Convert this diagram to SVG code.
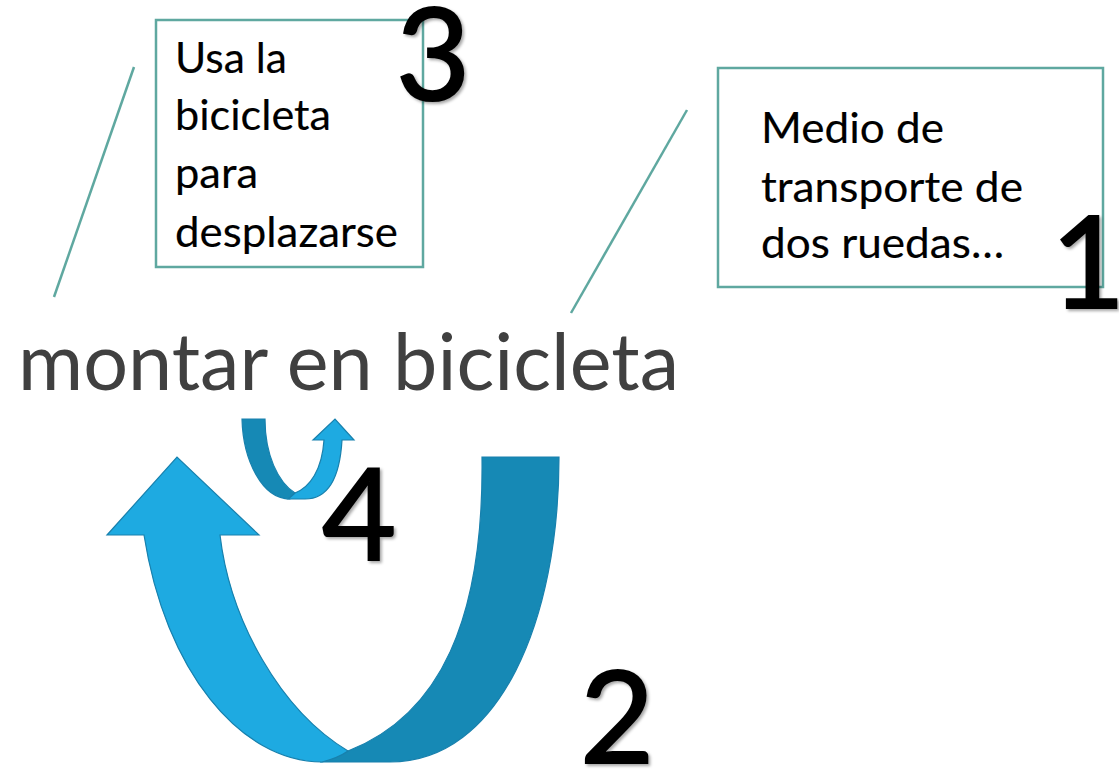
<svg xmlns="http://www.w3.org/2000/svg" width="1119" height="773" viewBox="0 0 1119 773">
  <defs>
    <filter id="shadow" x="-20%" y="-20%" width="150%" height="150%">
      <feDropShadow dx="2" dy="2" stdDeviation="1.5" flood-color="#000" flood-opacity="0.35"/>
    </filter>
  </defs>
  <style>
    .box { fill: #ffffff; stroke: #5fa8a0; stroke-width: 2.5; }
    .conn { stroke: #5fa8a0; stroke-width: 2.5; fill: none; }
    .label { font-family: Lato, "Open Sans", sans-serif; font-size: 43px; fill: #000000; stroke: #000000; stroke-width: 0.15; }
    .title { font-family: Lato, "Open Sans", sans-serif; font-size: 79px; fill: #404040; }
    .num { font-family: Lato, "Open Sans", sans-serif; font-size: 128px; fill: #000000; stroke: #000000; stroke-width: 2.2; filter: url(#shadow); }
    .light { fill: #1eaae1; stroke: #1880ad; stroke-width: 1.2; }
    .dark { fill: #1689b5; stroke: #1880ad; stroke-width: 1.2; }
  </style>
  <rect width="1119" height="773" fill="#ffffff"/>

  <g id="connectors">
    <line class="conn" x1="134" y1="67" x2="54" y2="297"/>
    <line class="conn" x1="687" y1="110" x2="571" y2="313"/>
  </g>

  <g id="node-title">
    <text class="title" x="18" y="390" textLength="661" lengthAdjust="spacingAndGlyphs">montar en bicicleta</text>
  </g>

  <g id="node-3">
    <rect class="box" x="156" y="20" width="267" height="247"/>
    <text class="label" x="175" y="73" textLength="112" lengthAdjust="spacingAndGlyphs">Usa la</text>
    <text class="label" x="175" y="130" textLength="156" lengthAdjust="spacingAndGlyphs">bicicleta</text>
    <text class="label" x="175" y="188" textLength="83" lengthAdjust="spacingAndGlyphs">para</text>
    <text class="label" x="175" y="247" textLength="223" lengthAdjust="spacingAndGlyphs">desplazarse</text>
    <text class="num" x="396" y="100">3</text>
  </g>

  <g id="node-1">
    <rect class="box" x="718" y="68" width="385" height="219"/>
    <text class="label" x="761" y="143" textLength="183" lengthAdjust="spacingAndGlyphs">Medio de</text>
    <text class="label" x="761" y="202" textLength="262" lengthAdjust="spacingAndGlyphs">transporte de</text>
    <text class="label" x="761" y="258" textLength="243" lengthAdjust="spacingAndGlyphs">dos ruedas…</text>
    <text class="num" x="1051" y="308">1</text>
  </g>

  <g id="node-2">
    <path class="dark" d="M482,457 L559,457 C559,620 500,762 390,762 L320,762 Q335,758 348,751 C440,715 484,620 482,457 Z"/>
    <path class="light" d="M107,535 L177,457 L259,535 L220,535 C230,620 280,710 348,751 Q338,758 322,762 C240,762 165,670 144,535 Z"/>
    <text class="num" x="580" y="763">2</text>
  </g>

  <g id="node-4">
    <path class="dark" d="M242,419 L265,419 C265,455 278,482 295,493 L290,499 C262,499 243,460 242,419 Z"/>
    <path class="light" d="M313,440 L335,419 L354,440 L342,440 C340,475 330,499 305,499 L288,499 Q292,496 295,493 C310,487 322,470 324,440 Z"/>
    <text class="num" x="322" y="560">4</text>
  </g>
</svg>
